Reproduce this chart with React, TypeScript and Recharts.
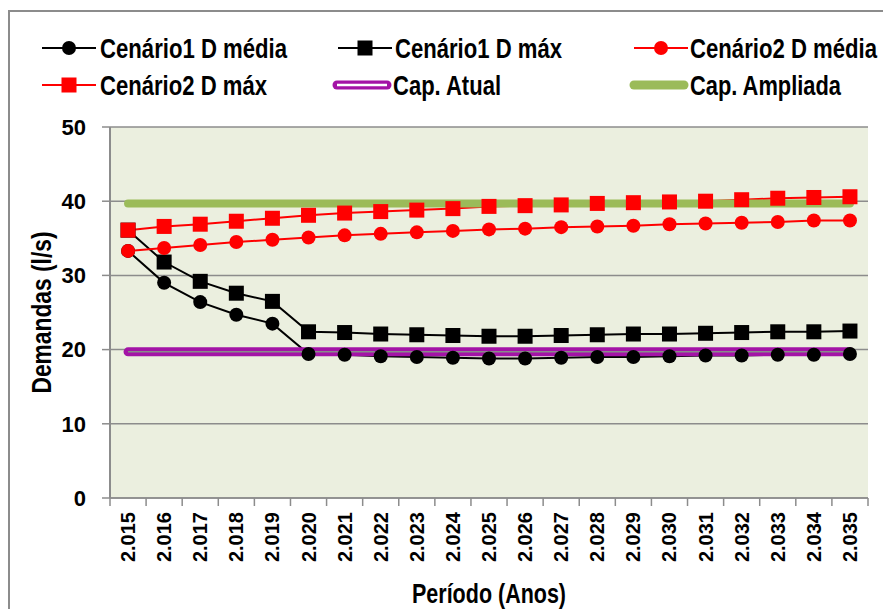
import React from 'react';
import { LineChart, Line, XAxis, YAxis, CartesianGrid } from 'recharts';

// --- data ---
const years = [
  '2.015', '2.016', '2.017', '2.018', '2.019', '2.020', '2.021', '2.022', '2.023', '2.024', '2.025',
  '2.026', '2.027', '2.028', '2.029', '2.030', '2.031', '2.032', '2.033', '2.034', '2.035',
];
const c1Media = [33.3, 29.0, 26.4, 24.7, 23.5, 19.4, 19.3, 19.1, 19.0, 18.9, 18.8, 18.8, 18.9, 19.0, 19.0, 19.1, 19.2, 19.2, 19.3, 19.3, 19.4];
const c1Max = [36.1, 31.8, 29.2, 27.6, 26.5, 22.4, 22.3, 22.1, 22.0, 21.9, 21.8, 21.8, 21.9, 22.0, 22.1, 22.1, 22.2, 22.3, 22.4, 22.4, 22.5];
const c2Media = [33.3, 33.7, 34.1, 34.5, 34.8, 35.1, 35.4, 35.6, 35.8, 36.0, 36.2, 36.3, 36.5, 36.6, 36.7, 36.9, 37.0, 37.1, 37.2, 37.4, 37.4];
const c2Max = [36.1, 36.6, 36.9, 37.3, 37.7, 38.1, 38.4, 38.6, 38.8, 39.0, 39.3, 39.4, 39.5, 39.7, 39.8, 39.9, 40.0, 40.2, 40.4, 40.5, 40.6];
const capAtual = [19.7, 19.7, 19.7, 19.7, 19.7, 19.7, 19.7, 19.7, 19.7, 19.7, 19.7, 19.7, 19.7, 19.7, 19.7, 19.7, 19.7, 19.7, 19.7, 19.7, 19.7];
const capAmpliada = [39.7, 39.7, 39.7, 39.7, 39.7, 39.7, 39.7, 39.7, 39.7, 39.7, 39.7, 39.7, 39.7, 39.7, 39.7, 39.7, 39.7, 39.7, 39.7, 39.7, 39.7];
const yTicks = [0, 10, 20, 30, 40, 50];

const data = years.map((year, i) => ({
  year,
  c1Media: c1Media[i],
  c1Max: c1Max[i],
  c2Media: c2Media[i],
  c2Max: c2Max[i],
  capAtual: capAtual[i],
  capAmpliada: capAmpliada[i],
}));

// --- layout / style ---
const W = 883;
const H = 609;
const PLOT_LEFT = 110;
const PLOT_RIGHT = 868;
const PLOT_TOP = 127;
const PLOT_BOTTOM = 498;
const STEP = (PLOT_RIGHT - PLOT_LEFT) / years.length;

// no narrow font installed -> squeeze Liberation Sans Bold horizontally
const FONT = "'Liberation Sans', Arial, sans-serif";
const SQUEEZE = 0.82;
const GRID = '#8c8c8c';

const COLORS = {
  BLACK: '#000000',
  RED: '#ff0000',
  PURPLE: '#a313a6',
  GREEN: '#9bbb59',
  PLOT_BG: '#ebefdf',
};

// narrow bold text: scaled on x, then fitted to the width measured on the reference
const NarrowText: React.FC<{ x: number; y: number; len: number; rotate?: boolean; anchor?: string; children: string }> =
  ({ x, y, len, rotate, anchor = 'start', children }) => (
    <text
      transform={`translate(${x},${y})${rotate ? ' rotate(-90)' : ''} scale(${SQUEEZE},1)`}
      textAnchor={anchor}
      fontFamily={FONT}
      fontWeight="bold"
      fontSize={27}
      textLength={len / SQUEEZE}
      lengthAdjust="spacingAndGlyphs"
      fill="#000"
    >
      {children}
    </text>
  );

const circleDot = (color: string) => (p: any) => (
  <circle key={`c-${p.index}`} cx={p.cx} cy={p.cy} r={7} fill={color} />
);
const squareDot = (color: string) => (p: any) => (
  <rect key={`s-${p.index}`} x={p.cx - 7.5} y={p.cy - 7.5} width={15} height={15} fill={color} />
);

const YearTick = (props: any) => {
  const { x, y, payload, index } = props;
  const half = STEP / 2;
  return (
    <g>
      <line x1={x - half} x2={x - half} y1={PLOT_BOTTOM} y2={PLOT_BOTTOM + 8} stroke={GRID} strokeWidth={1.5} />
      {index === years.length - 1 && (
        <line x1={x + half} x2={x + half} y1={PLOT_BOTTOM} y2={PLOT_BOTTOM + 8} stroke={GRID} strokeWidth={1.5} />
      )}
      <text
        transform={`translate(${x + 7},${y + 4}) rotate(-90)`}
        textAnchor="end"
        fontFamily={FONT}
        fontWeight="bold"
        fontSize={20}
        fill="#000"
      >
        {payload.value}
      </text>
    </g>
  );
};

const legendItems = [
  { kind: 'c1Media', label: 'Cenário1 D média', x: 42, y: 48, tx: 100, len: 187 },
  { kind: 'c1Max', label: 'Cenário1 D máx', x: 338, y: 48, tx: 395, len: 167 },
  { kind: 'c2Media', label: 'Cenário2 D média', x: 634, y: 48, tx: 690, len: 187 },
  { kind: 'c2Max', label: 'Cenário2 D máx', x: 42, y: 85, tx: 100, len: 167 },
  { kind: 'capAtual', label: 'Cap. Atual', x: 333, y: 85, tx: 393, len: 108 },
  { kind: 'capAmpliada', label: 'Cap. Ampliada', x: 630, y: 85, tx: 690, len: 151 },
];

const LegendIcon: React.FC<{ kind: string; x: number; y: number }> = ({ kind, x, y }) => {
  if (kind === 'capAtual') {
    return (
      <g>
        <line x1={x + 4} x2={x + 54} y1={y} y2={y} stroke={COLORS.PURPLE} strokeWidth={9} strokeLinecap="round" />
        <line x1={x + 4} x2={x + 54} y1={y} y2={y} stroke="#ffffff" strokeWidth={2.5} />
      </g>
    );
  }
  if (kind === 'capAmpliada') {
    return <line x1={x + 4} x2={x + 54} y1={y} y2={y} stroke={COLORS.GREEN} strokeWidth={9} strokeLinecap="round" />;
  }
  const color = kind.startsWith('c1') ? COLORS.BLACK : COLORS.RED;
  return (
    <g>
      <line x1={x} x2={x + 54} y1={y} y2={y} stroke={color} strokeWidth={2} />
      {kind.endsWith('Media')
        ? <circle cx={x + 27} cy={y} r={7} fill={color} />
        : <rect x={x + 19.5} y={y - 7.5} width={15} height={15} fill={color} />}
    </g>
  );
};

const ChartLegend = () => (
  <svg width={W} height={120} style={{ position: 'absolute', left: 0, top: 0 }}>
    {legendItems.map((it) => (
      <g key={it.kind}>
        <LegendIcon kind={it.kind} x={it.x} y={it.y} />
        <NarrowText x={it.tx} y={it.y + 10} len={it.len}>{it.label}</NarrowText>
      </g>
    ))}
  </svg>
);

const YTitle = () => (
  <NarrowText x={51} y={(PLOT_TOP + PLOT_BOTTOM) / 2} len={162} rotate anchor="middle">
    Demandas (l/s)
  </NarrowText>
);

const XTitle = () => (
  <NarrowText x={(PLOT_LEFT + PLOT_RIGHT) / 2} y={603} len={154} anchor="middle">
    Período (Anos)
  </NarrowText>
);

export default function App() {
  return (
    <div style={{ position: 'absolute', left: 0, top: 0, width: W, height: H, overflow: 'hidden', background: '#fff' }}>
      {/* outer frame (only left/top edges visible in the reference) */}
      <div style={{ position: 'absolute', left: 8, top: 10, width: W + 20, height: H + 20, border: `2px solid ${GRID}` }} />

      <ChartLegend />

      <div style={{ position: 'absolute', left: 0, top: 0 }}>
        <LineChart
          width={W}
          height={H}
          data={data}
          margin={{ top: PLOT_TOP, right: W - PLOT_RIGHT, bottom: 0, left: 0 }}
        >
          <CartesianGrid vertical={false} stroke={GRID} strokeWidth={1.5} fill={COLORS.PLOT_BG} fillOpacity={1} />
          <XAxis
            dataKey="year"
            scale="band"
            height={H - PLOT_BOTTOM}
            interval={0}
            tickLine={false}
            tickSize={8}
            axisLine={{ stroke: GRID, strokeWidth: 1.5 }}
            tick={<YearTick />}
            label={<XTitle />}
          />
          <YAxis
            width={PLOT_LEFT}
            domain={[0, 50]}
            ticks={yTicks}
            interval={0}
            tickSize={8}
            tickMargin={16}
            tickLine={{ stroke: GRID, strokeWidth: 1.5 }}
            axisLine={{ stroke: GRID, strokeWidth: 2 }}
            tick={{ fontFamily: FONT, fontWeight: 'bold', fontSize: 22, fill: '#000' }}
            label={<YTitle />}
          />

          <Line dataKey="c1Media" name="Cenário1 D média" stroke={COLORS.BLACK} strokeWidth={2}
            dot={circleDot(COLORS.BLACK)} activeDot={false} isAnimationActive={false} />
          <Line dataKey="c1Max" name="Cenário1 D máx" stroke={COLORS.BLACK} strokeWidth={2}
            dot={squareDot(COLORS.BLACK)} activeDot={false} isAnimationActive={false} />
          <Line dataKey="c2Media" name="Cenário2 D média" stroke={COLORS.RED} strokeWidth={2}
            dot={circleDot(COLORS.RED)} activeDot={false} isAnimationActive={false} />
          <Line dataKey="c2Max" name="Cenário2 D máx" stroke={COLORS.RED} strokeWidth={2}
            dot={squareDot(COLORS.RED)} activeDot={false} isAnimationActive={false} />

          {/* capacity lines on top */}
          <Line dataKey="capAtual" name="Cap. Atual" stroke={COLORS.PURPLE} strokeWidth={9} strokeLinecap="round"
            dot={false} activeDot={false} isAnimationActive={false} />
          <Line dataKey="capAtual" name="Cap. Atual (inner)" stroke="#8a8a8a" strokeWidth={1.5}
            dot={false} activeDot={false} isAnimationActive={false} legendType="none" />
          <Line dataKey="capAmpliada" name="Cap. Ampliada" stroke={COLORS.GREEN} strokeWidth={8} strokeLinecap="round"
            dot={false} activeDot={false} isAnimationActive={false} />
        </LineChart>
      </div>
    </div>
  );
}
